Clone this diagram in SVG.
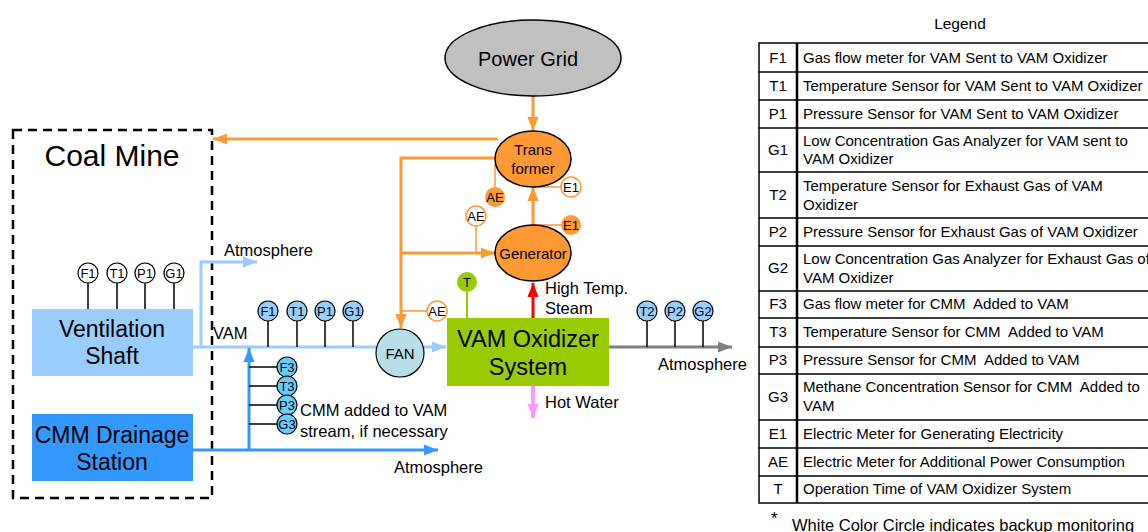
<svg xmlns="http://www.w3.org/2000/svg" width="1148" height="532" viewBox="0 0 1148 532">
<style>
text{font-family:"Liberation Sans",Arial,sans-serif;fill:#000;white-space:pre}
.s{font-size:13px;text-anchor:middle}
.lt{font-size:15px}
.lk{font-size:15px;text-anchor:middle}
.lab{font-size:16.5px}
.big{font-size:23px;text-anchor:middle}
.or{stroke:#FF9933;stroke-width:3;fill:none}
.ort{stroke:#FF9933;stroke-width:1.5;fill:none}
.lb{stroke:#99CCFF;stroke-width:3;fill:none}
.db{stroke:#3399FF;stroke-width:3;fill:none}
.stem{stroke:#000;stroke-width:1.5}
.sen{stroke:#000;stroke-width:1.2}
.grid{stroke:#000;stroke-width:1.5;fill:none}
</style>
<defs>
<marker id="mO" viewBox="0 0 10 10" refX="10" refY="5" markerWidth="14" markerHeight="14" orient="auto" markerUnits="userSpaceOnUse"><path d="M0,1L10,5L0,9z" fill="#FF9933"/></marker>
<marker id="mLB" viewBox="0 0 10 10" refX="10" refY="5" markerWidth="14" markerHeight="14" orient="auto" markerUnits="userSpaceOnUse"><path d="M0,1L10,5L0,9z" fill="#99CCFF"/></marker>
<marker id="mDB" viewBox="0 0 10 10" refX="10" refY="5" markerWidth="14" markerHeight="14" orient="auto" markerUnits="userSpaceOnUse"><path d="M0,1L10,5L0,9z" fill="#3399FF"/></marker>
<marker id="mR" viewBox="0 0 10 10" refX="10" refY="5" markerWidth="14" markerHeight="14" orient="auto" markerUnits="userSpaceOnUse"><path d="M0,1L10,5L0,9z" fill="#FF0000"/></marker>
<marker id="mP" viewBox="0 0 10 10" refX="10" refY="5" markerWidth="14" markerHeight="14" orient="auto" markerUnits="userSpaceOnUse"><path d="M0,1L10,5L0,9z" fill="#FF99FF"/></marker>
<marker id="mG" viewBox="0 0 10 10" refX="10" refY="5" markerWidth="14" markerHeight="14" orient="auto" markerUnits="userSpaceOnUse"><path d="M0,1L10,5L0,9z" fill="#808080"/></marker>
</defs>

<rect width="1148" height="532" fill="#fff"/>

<g id="coal-mine">
<rect x="13" y="130" width="199" height="368" fill="none" stroke="#000" stroke-width="2.5" stroke-dasharray="9,6"/>
<text x="112" y="166" style="font-size:30px;text-anchor:middle">Coal Mine</text>
</g>

<g id="connectors">
<line x1="533" y1="96" x2="533" y2="131" class="or" marker-end="url(#mO)"/>
<line x1="533" y1="225" x2="533" y2="187" class="or" marker-end="url(#mO)"/>
<line x1="498" y1="139" x2="213" y2="139" class="or" marker-end="url(#mO)"/>
<polyline points="496,158 401,158 401,328" class="or" marker-end="url(#mO)"/>
<line x1="401" y1="253" x2="495" y2="253" class="or" marker-end="url(#mO)"/>
<line x1="401" y1="311" x2="427" y2="311" class="ort"/>
<line x1="476" y1="226" x2="476" y2="253" class="ort"/>
<line x1="495" y1="165" x2="495" y2="187" class="ort"/>
<line x1="533" y1="187" x2="561" y2="187" class="ort"/>
<line x1="533" y1="225" x2="561" y2="225" class="ort"/>
<line x1="193" y1="347" x2="376" y2="347" class="lb"/>
<line x1="424" y1="347" x2="446" y2="347" class="lb" marker-end="url(#mLB)"/>
<polyline points="201,347 201,262 257,262" class="lb" marker-end="url(#mLB)"/>
<line x1="193" y1="450" x2="438" y2="450" class="db" marker-end="url(#mDB)"/>
<line x1="249" y1="450" x2="249" y2="348" class="db" marker-end="url(#mDB)"/>
<line x1="533" y1="318" x2="533" y2="283" stroke="#FF0000" stroke-width="3" marker-end="url(#mR)"/>
<line x1="533" y1="386" x2="533" y2="418" stroke="#FF99FF" stroke-width="4" marker-end="url(#mP)"/>
<line x1="609" y1="347" x2="732" y2="347" stroke="#808080" stroke-width="3" marker-end="url(#mG)"/>
<g class="stem">
<line x1="88" y1="283" x2="88" y2="309"/><line x1="117" y1="283" x2="117" y2="309"/><line x1="145" y1="283" x2="145" y2="309"/><line x1="174" y1="283" x2="174" y2="309"/>
<line x1="268" y1="321" x2="268" y2="347"/><line x1="297" y1="321" x2="297" y2="347"/><line x1="325" y1="321" x2="325" y2="347"/><line x1="353" y1="321" x2="353" y2="347"/>
<line x1="249" y1="367" x2="277" y2="367"/><line x1="249" y1="386" x2="277" y2="386"/><line x1="249" y1="405" x2="277" y2="405"/><line x1="249" y1="424" x2="277" y2="424"/>
<line x1="647" y1="321" x2="647" y2="347"/><line x1="675" y1="321" x2="675" y2="347"/><line x1="703" y1="321" x2="703" y2="347"/>
</g>
<line x1="467" y1="292" x2="467" y2="318" stroke="#99CC00" stroke-width="2"/>
</g>

<g id="power-grid">
<ellipse cx="533" cy="58" rx="88" ry="38" fill="#C0C0C0" stroke="#000" stroke-width="1.5"/>
<text x="528" y="66" style="font-size:20px;text-anchor:middle">Power Grid</text>
</g>
<g id="transformer">
<ellipse cx="533" cy="159" rx="38" ry="28" fill="#FF9933" stroke="#000" stroke-width="1.5"/>
<text x="533" y="155" style="font-size:15px;text-anchor:middle">Trans</text>
<text x="533" y="174" style="font-size:15px;text-anchor:middle">former</text>
</g>
<g id="generator">
<ellipse cx="533" cy="253" rx="38" ry="28" fill="#FF9933" stroke="#000" stroke-width="1.5"/>
<text x="533" y="259" style="font-size:15px;text-anchor:middle">Generator</text>
</g>
<g id="ventilation-shaft">
<rect x="32" y="309" width="161" height="67" fill="#99CCFF"/>
<text x="112" y="337" class="big">Ventilation</text>
<text x="112" y="364" class="big">Shaft</text>
</g>
<g id="cmm-drainage">
<rect x="32" y="414" width="161" height="67" fill="#3399FF"/>
<text x="112" y="443" class="big">CMM Drainage</text>
<text x="112" y="470" class="big">Station</text>
</g>
<g id="fan">
<circle cx="400" cy="353" r="24" fill="#B7DEE8" stroke="#000" stroke-width="1.2"/>
<text x="400" y="359" style="font-size:15px;text-anchor:middle">FAN</text>
</g>
<g id="vam-oxidizer">
<rect x="447" y="318" width="162" height="68" fill="#99CC00"/>
<text x="528" y="347" style="font-size:23.5px;text-anchor:middle">VAM Oxidizer</text>
<text x="528" y="375" style="font-size:23.5px;text-anchor:middle">System</text>
</g>

<g id="sensors-shaft">
<circle cx="88" cy="273" r="10" fill="#fff" class="sen"/><text x="88" y="278" class="s">F1</text>
<circle cx="117" cy="273" r="10" fill="#fff" class="sen"/><text x="117" y="278" class="s">T1</text>
<circle cx="145" cy="273" r="10" fill="#fff" class="sen"/><text x="145" y="278" class="s">P1</text>
<circle cx="174" cy="273" r="10" fill="#fff" class="sen"/><text x="174" y="278" class="s">G1</text>
</g>
<g id="sensors-vam">
<circle cx="268" cy="311" r="10" fill="#99CCFF" class="sen"/><text x="268" y="316" class="s">F1</text>
<circle cx="297" cy="311" r="10" fill="#99CCFF" class="sen"/><text x="297" y="316" class="s">T1</text>
<circle cx="325" cy="311" r="10" fill="#99CCFF" class="sen"/><text x="325" y="316" class="s">P1</text>
<circle cx="353" cy="311" r="10" fill="#99CCFF" class="sen"/><text x="353" y="316" class="s">G1</text>
</g>
<g id="sensors-cmm">
<circle cx="287" cy="367" r="10" fill="#66CCFF" class="sen"/><text x="287" y="372" class="s">F3</text>
<circle cx="287" cy="386" r="10" fill="#66CCFF" class="sen"/><text x="287" y="391" class="s">T3</text>
<circle cx="287" cy="405" r="10" fill="#66CCFF" class="sen"/><text x="287" y="410" class="s">P3</text>
<circle cx="287" cy="424" r="10" fill="#66CCFF" class="sen"/><text x="287" y="429" class="s">G3</text>
</g>
<g id="sensors-exhaust">
<circle cx="647" cy="311" r="10" fill="#99CCFF" class="sen"/><text x="647" y="316" class="s">T2</text>
<circle cx="675" cy="311" r="10" fill="#99CCFF" class="sen"/><text x="675" y="316" class="s">P2</text>
<circle cx="703" cy="311" r="10" fill="#99CCFF" class="sen"/><text x="703" y="316" class="s">G2</text>
</g>
<g id="sensor-t">
<circle cx="467" cy="282" r="10" fill="#99CC00"/><text x="467" y="287" class="s">T</text>
</g>
<g id="meters">
<circle cx="437" cy="311" r="10" fill="#fff" stroke="#FF9933" stroke-width="1.5"/><text x="437" y="316" class="s">AE</text>
<circle cx="476" cy="216" r="10" fill="#fff" stroke="#FF9933" stroke-width="1.5"/><text x="476" y="221" class="s">AE</text>
<circle cx="495" cy="197" r="10" fill="#FF9933"/><text x="495" y="202" class="s">AE</text>
<circle cx="571" cy="187" r="10" fill="#fff" stroke="#FF9933" stroke-width="1.5"/><text x="571" y="192" class="s">E1</text>
<circle cx="571" cy="225" r="10" fill="#FF9933"/><text x="571" y="230" class="s">E1</text>
</g>

<g id="labels">
<text x="224" y="256" class="lab">Atmosphere</text>
<text x="213" y="339" class="lab">VAM</text>
<text x="300" y="416" class="lab">CMM added to VAM</text>
<text x="300" y="437" class="lab">stream, if necessary</text>
<text x="394" y="473" class="lab">Atmosphere</text>
<text x="545" y="294" class="lab">High Temp.</text>
<text x="545" y="314" class="lab">Steam</text>
<text x="545" y="408" class="lab">Hot Water</text>
<text x="658" y="370" class="lab">Atmosphere</text>
</g>

<g id="legend">
<text x="960" y="29" style="font-size:15.5px;text-anchor:middle">Legend</text>
<rect x="759" y="43" width="400" height="460" class="grid"/>
<line x1="797" y1="43" x2="797" y2="503" stroke="#000" stroke-width="2.5"/>
<g class="grid">
<line x1="759" y1="72" x2="1160" y2="72"/><line x1="759" y1="100" x2="1160" y2="100"/><line x1="759" y1="128" x2="1160" y2="128"/>
<line x1="759" y1="172" x2="1160" y2="172"/><line x1="759" y1="218" x2="1160" y2="218"/><line x1="759" y1="246" x2="1160" y2="246"/>
<line x1="759" y1="291" x2="1160" y2="291"/><line x1="759" y1="318" x2="1160" y2="318"/><line x1="759" y1="347" x2="1160" y2="347"/>
<line x1="759" y1="374" x2="1160" y2="374"/><line x1="759" y1="420" x2="1160" y2="420"/><line x1="759" y1="448" x2="1160" y2="448"/>
<line x1="759" y1="476" x2="1160" y2="476"/>
</g>
<text x="778" y="63" class="lk">F1</text><text x="803" y="63" class="lt">Gas flow meter for VAM Sent to VAM Oxidizer</text>
<text x="778" y="91" class="lk">T1</text><text x="803" y="91" class="lt">Temperature Sensor for VAM Sent to VAM Oxidizer</text>
<text x="778" y="119" class="lk">P1</text><text x="803" y="119" class="lt">Pressure Sensor for VAM Sent to VAM Oxidizer</text>
<text x="778" y="155" class="lk">G1</text><text x="803" y="146" class="lt">Low Concentration Gas Analyzer for VAM sent to</text><text x="803" y="164" class="lt">VAM Oxidizer</text>
<text x="778" y="200" class="lk">T2</text><text x="803" y="191" class="lt">Temperature Sensor for Exhaust Gas of VAM</text><text x="803" y="210" class="lt">Oxidizer</text>
<text x="778" y="237" class="lk">P2</text><text x="803" y="237" class="lt">Pressure Sensor for Exhaust Gas of VAM Oxidizer</text>
<text x="778" y="273" class="lk">G2</text><text x="803" y="264" class="lt">Low Concentration Gas Analyzer for Exhaust Gas of</text><text x="803" y="283" class="lt">VAM Oxidizer</text>
<text x="778" y="309" class="lk">F3</text><text x="803" y="309" class="lt">Gas flow meter for CMM  Added to VAM</text>
<text x="778" y="337" class="lk">T3</text><text x="803" y="337" class="lt">Temperature Sensor for CMM  Added to VAM</text>
<text x="778" y="365" class="lk">P3</text><text x="803" y="365" class="lt">Pressure Sensor for CMM  Added to VAM</text>
<text x="778" y="402" class="lk">G3</text><text x="803" y="392" class="lt">Methane Concentration Sensor for CMM  Added to</text><text x="803" y="411" class="lt">VAM</text>
<text x="778" y="439" class="lk">E1</text><text x="803" y="439" class="lt">Electric Meter for Generating Electricity</text>
<text x="778" y="467" class="lk">AE</text><text x="803" y="467" class="lt">Electric Meter for Additional Power Consumption</text>
<text x="778" y="494" class="lk">T</text><text x="803" y="494" class="lt">Operation Time of VAM Oxidizer System</text>
<text x="771" y="524" style="font-size:17px">*</text>
<text x="792" y="531" style="font-size:16.5px">White Color Circle indicates backup monitoring</text>
</g>
</svg>
